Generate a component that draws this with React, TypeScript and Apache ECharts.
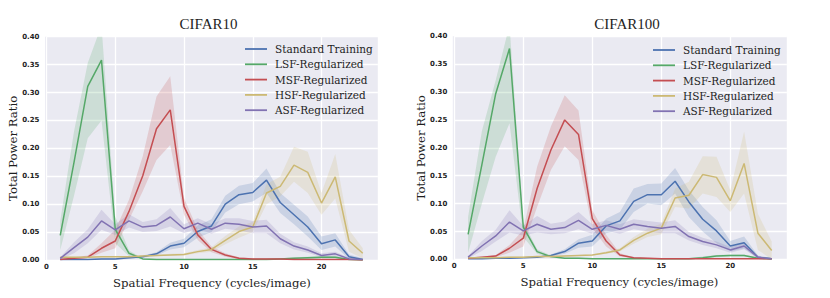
import React, { useEffect, useRef } from "react";
import * as echarts from "echarts";

const freq = [1, 2, 3, 4, 5, 6, 7, 8, 9, 10, 11, 12, 13, 14, 15, 16, 17, 18, 19, 20, 21, 22, 23];
const seriesNames = ["Standard Training", "LSF-Regularized", "MSF-Regularized", "HSF-Regularized", "ASF-Regularized"];
const colors = ["#4C72B0", "#55A868", "#C44E52", "#CCB974", "#8172B2"];
const panelTitles = ["CIFAR10", "CIFAR100"];
const xTicks = [0, 5, 10, 15, 20];
const yTicks = [0, 0.05, 0.1, 0.15, 0.2, 0.25, 0.3, 0.35, 0.4];

// ---- CIFAR10 ----
const c10StdMean = [0.001, 0.001, 0.001, 0.002, 0.002, 0.004, 0.006, 0.011, 0.025, 0.030, 0.051, 0.061, 0.100, 0.117, 0.121, 0.143, 0.103, 0.081, 0.059, 0.029, 0.036, 0.006, 0.001];
const c10StdLo = [0, 0, 0, 0.001, 0.001, 0.002, 0.004, 0.008, 0.019, 0.023, 0.040, 0.050, 0.085, 0.100, 0.105, 0.120, 0.084, 0.064, 0.042, 0.018, 0.024, 0.002, 0];
const c10StdHi = [0.002, 0.002, 0.002, 0.003, 0.003, 0.006, 0.008, 0.014, 0.031, 0.038, 0.062, 0.073, 0.115, 0.133, 0.138, 0.164, 0.120, 0.099, 0.078, 0.042, 0.048, 0.010, 0.003];

const c10LsfMean = [0.044, 0.175, 0.311, 0.358, 0.055, 0.012, 0.002, 0.001, 0.001, 0.001, 0.001, 0.001, 0.001, 0.001, 0.001, 0.001, 0.002, 0.003, 0.004, 0.005, 0.005, 0.001, 0.000];
const c10LsfLo = [0.018, 0.115, 0.218, 0.250, 0.030, 0.007, 0.001, 0, 0, 0, 0, 0, 0, 0, 0, 0, 0.001, 0.001, 0.002, 0.003, 0.003, 0, 0];
const c10LsfHi = [0.070, 0.230, 0.353, 0.420, 0.078, 0.017, 0.003, 0.002, 0.002, 0.002, 0.002, 0.002, 0.002, 0.002, 0.002, 0.002, 0.003, 0.005, 0.006, 0.007, 0.007, 0.002, 0.001];

const c10MsfMean = [0.001, 0.003, 0.005, 0.021, 0.034, 0.087, 0.151, 0.235, 0.269, 0.096, 0.045, 0.019, 0.009, 0.003, 0.002, 0.002, 0.002, 0.001, 0.001, 0.001, 0.001, 0.001, 0.000];
const c10MsfLo = [0, 0.001, 0.003, 0.013, 0.021, 0.072, 0.123, 0.179, 0.206, 0.081, 0.036, 0.014, 0.006, 0.002, 0.001, 0.001, 0.001, 0, 0, 0, 0, 0, 0];
const c10MsfHi = [0.002, 0.005, 0.008, 0.030, 0.054, 0.108, 0.186, 0.293, 0.329, 0.111, 0.054, 0.024, 0.012, 0.005, 0.003, 0.003, 0.003, 0.002, 0.002, 0.002, 0.002, 0.002, 0.001];

const c10HsfMean = [0.005, 0.005, 0.005, 0.006, 0.006, 0.006, 0.007, 0.008, 0.009, 0.010, 0.015, 0.019, 0.035, 0.051, 0.059, 0.120, 0.132, 0.170, 0.157, 0.102, 0.149, 0.034, 0.012];
const c10HsfLo = [0.004, 0.004, 0.004, 0.005, 0.005, 0.005, 0.006, 0.007, 0.007, 0.008, 0.012, 0.015, 0.028, 0.040, 0.050, 0.100, 0.114, 0.140, 0.120, 0.081, 0.110, 0.015, 0.003];
const c10HsfHi = [0.006, 0.006, 0.006, 0.007, 0.007, 0.007, 0.008, 0.009, 0.011, 0.012, 0.018, 0.023, 0.043, 0.060, 0.068, 0.136, 0.149, 0.203, 0.194, 0.120, 0.190, 0.054, 0.021];

const c10AsfMean = [0.003, 0.022, 0.041, 0.070, 0.054, 0.070, 0.059, 0.062, 0.077, 0.056, 0.066, 0.055, 0.066, 0.064, 0.059, 0.061, 0.038, 0.025, 0.018, 0.008, 0.011, 0.002, 0.001];
const c10AsfLo = [0.001, 0.012, 0.030, 0.054, 0.045, 0.058, 0.050, 0.052, 0.060, 0.048, 0.056, 0.047, 0.056, 0.053, 0.048, 0.048, 0.030, 0.019, 0.013, 0.005, 0.007, 0.001, 0];
const c10AsfHi = [0.005, 0.032, 0.055, 0.090, 0.064, 0.082, 0.068, 0.073, 0.093, 0.064, 0.075, 0.064, 0.075, 0.075, 0.070, 0.072, 0.047, 0.032, 0.024, 0.012, 0.015, 0.004, 0.002];

// ---- CIFAR100 ----
const c100StdMean = [0.001, 0.001, 0.002, 0.002, 0.003, 0.004, 0.007, 0.014, 0.029, 0.033, 0.060, 0.069, 0.104, 0.116, 0.116, 0.140, 0.103, 0.072, 0.051, 0.024, 0.030, 0.004, 0.001];
const c100StdLo = [0, 0, 0.001, 0.001, 0.002, 0.003, 0.005, 0.010, 0.021, 0.023, 0.047, 0.053, 0.085, 0.100, 0.097, 0.118, 0.076, 0.050, 0.029, 0.014, 0.020, 0.001, 0];
const c100StdHi = [0.002, 0.002, 0.003, 0.003, 0.004, 0.005, 0.009, 0.018, 0.036, 0.044, 0.073, 0.085, 0.127, 0.135, 0.136, 0.164, 0.124, 0.094, 0.070, 0.033, 0.041, 0.007, 0.002];

const c100LsfMean = [0.045, 0.170, 0.297, 0.378, 0.058, 0.014, 0.005, 0.002, 0.002, 0.001, 0.001, 0.001, 0.001, 0.001, 0.001, 0.001, 0.001, 0.003, 0.006, 0.007, 0.007, 0.002, 0.001];
const c100LsfLo = [0.012, 0.100, 0.184, 0.244, 0.040, 0.010, 0.003, 0.001, 0.001, 0, 0, 0, 0, 0, 0, 0, 0, 0.001, 0.004, 0.005, 0.005, 0.001, 0];
const c100LsfHi = [0.076, 0.230, 0.321, 0.420, 0.067, 0.018, 0.007, 0.003, 0.003, 0.002, 0.002, 0.002, 0.002, 0.002, 0.002, 0.002, 0.002, 0.005, 0.008, 0.009, 0.009, 0.003, 0.002];

const c100MsfMean = [0.002, 0.004, 0.006, 0.020, 0.038, 0.127, 0.196, 0.250, 0.224, 0.073, 0.033, 0.008, 0.003, 0.002, 0.001, 0.001, 0.001, 0.001, 0.001, 0.001, 0.001, 0.001, 0.001];
const c100MsfLo = [0.001, 0.003, 0.004, 0.012, 0.023, 0.094, 0.160, 0.203, 0.178, 0.056, 0.023, 0.005, 0.002, 0.001, 0, 0, 0, 0, 0, 0, 0, 0, 0];
const c100MsfHi = [0.003, 0.005, 0.008, 0.026, 0.053, 0.166, 0.238, 0.294, 0.267, 0.088, 0.044, 0.011, 0.004, 0.003, 0.002, 0.002, 0.002, 0.002, 0.002, 0.002, 0.002, 0.002, 0.002];

const c100HsfMean = [0.003, 0.003, 0.003, 0.004, 0.004, 0.005, 0.005, 0.006, 0.007, 0.008, 0.012, 0.017, 0.034, 0.047, 0.056, 0.110, 0.115, 0.152, 0.147, 0.105, 0.172, 0.047, 0.016];
const c100HsfLo = [0.002, 0.002, 0.002, 0.003, 0.003, 0.004, 0.004, 0.005, 0.006, 0.007, 0.010, 0.014, 0.028, 0.040, 0.045, 0.094, 0.091, 0.118, 0.112, 0.085, 0.118, 0.017, 0];
const c100HsfHi = [0.004, 0.004, 0.004, 0.005, 0.005, 0.006, 0.006, 0.007, 0.008, 0.009, 0.014, 0.020, 0.040, 0.055, 0.064, 0.127, 0.139, 0.185, 0.184, 0.124, 0.229, 0.082, 0.032];

const c100AsfMean = [0.004, 0.024, 0.042, 0.067, 0.051, 0.063, 0.054, 0.057, 0.070, 0.054, 0.061, 0.054, 0.063, 0.059, 0.056, 0.059, 0.041, 0.032, 0.026, 0.017, 0.024, 0.004, 0.001];
const c100AsfLo = [0.002, 0.015, 0.032, 0.048, 0.043, 0.048, 0.045, 0.047, 0.054, 0.046, 0.052, 0.046, 0.054, 0.050, 0.047, 0.047, 0.034, 0.026, 0.020, 0.012, 0.018, 0.002, 0];
const c100AsfHi = [0.006, 0.033, 0.053, 0.088, 0.060, 0.078, 0.064, 0.068, 0.085, 0.063, 0.070, 0.063, 0.072, 0.069, 0.066, 0.070, 0.049, 0.039, 0.032, 0.022, 0.030, 0.006, 0.002];

const panels = [
  {
    means: [c10StdMean, c10LsfMean, c10MsfMean, c10HsfMean, c10AsfMean],
    los: [c10StdLo, c10LsfLo, c10MsfLo, c10HsfLo, c10AsfLo],
    his: [c10StdHi, c10LsfHi, c10MsfHi, c10HsfHi, c10AsfHi],
  },
  {
    means: [c100StdMean, c100LsfMean, c100MsfMean, c100HsfMean, c100AsfMean],
    los: [c100StdLo, c100LsfLo, c100MsfLo, c100HsfLo, c100AsfLo],
    his: [c100StdHi, c100LsfHi, c100MsfHi, c100HsfHi, c100AsfHi],
  },
];

// layout
const layout = [
  { gridLeft: 46.5, unit: 13.75, top: 36.7, bottom: 260, bgLeft: 45, titleX: 208.5, yNameX: 13, xNameX: 212, xNameY: 283, legendLeft: 245, legendTop: 43 },
  { gridLeft: 454.3, unit: 13.8, top: 36.2, bottom: 259.4, bgLeft: 452.8, titleX: 627, yNameX: 421, xNameX: 619.5, xNameY: 282, legendLeft: 653, legendTop: 44 },
];
const X_MAX = 24.1;
const Y_MAX = 0.4;
const TEXT = "#1e1e1e";

function bandRenderer(color: string) {
  return (params: any, api: any) => {
    if (params.dataIndex !== 0) return null;
    const upper: number[][] = [];
    const lower: number[][] = [];
    for (let k = 0; k < freq.length; k++) {
      const x = api.value(0, k);
      const lo = api.value(1, k);
      const hi = api.value(2, k);
      upper.push(api.coord([x, hi]));
      lower.push(api.coord([x, lo]));
    }
    const pts = upper.concat(lower.reverse());
    const cs = params.coordSys;
    return {
      type: "polygon",
      shape: { points: pts },
      style: { fill: color, opacity: 0.2 },
      clipPath: {
        type: "rect",
        shape: { x: cs.x, y: cs.y, width: cs.width, height: cs.height },
      },
      silent: true,
    };
  };
}

export default function App() {
  const ref = useRef<HTMLDivElement>(null);
  useEffect(() => {
    if (!ref.current) return;
    const chart = echarts.init(ref.current, null, { renderer: "svg" });

    const grids: any[] = [];
    const xAxes: any[] = [];
    const yAxes: any[] = [];
    const legends: any[] = [];
    const series: any[] = [];
    const graphics: any[] = [];

    layout.forEach((L, p) => {
      const width = X_MAX * L.unit;
      const height = L.bottom - L.top;
      grids.push({ left: L.gridLeft, top: L.top, width, height, containLabel: false });
      graphics.push({
        type: "rect",
        z: -10,
        shape: { x: L.bgLeft, y: L.top, width: L.gridLeft + width - L.bgLeft, height },
        style: { fill: "#EAEAF2" },
        silent: true,
      });
      xAxes.push({
        type: "value",
        gridIndex: p,
        min: 0,
        max: X_MAX,
        interval: 5,
        axisLine: { show: false },
        axisTick: { show: false },
        splitLine: { show: true, lineStyle: { color: "#FFFFFF", width: 1.3 } },
        axisLabel: {
          margin: 3,
          showMaxLabel: false,
          formatter: (v: number) => (xTicks.indexOf(v) >= 0 ? String(v) : ""),
          fontFamily: "DejaVu Sans",
          fontWeight: "bold",
          fontSize: 7,
          color: TEXT,
        },
      });
      yAxes.push({
        type: "value",
        gridIndex: p,
        min: 0,
        max: Y_MAX,
        interval: 0.05,
        axisLine: { show: false },
        axisTick: { show: false },
        splitLine: { show: true, lineStyle: { color: "#FFFFFF", width: 1.3 } },
        axisLabel: {
          margin: 7,
          formatter: (v: number) => (yTicks.some((t) => Math.abs(t - v) < 1e-9) ? v.toFixed(2) : ""),
          fontFamily: "DejaVu Sans",
          fontWeight: "bold",
          fontSize: 7,
          color: TEXT,
        },
      });
      legends.push({
        orient: "vertical",
        left: L.legendLeft,
        top: L.legendTop,
        padding: 0,
        itemGap: 3.3,
        itemWidth: 22,
        itemHeight: 1.8,
        icon: "rect",
        data: seriesNames,
        selectedMode: false,
        textStyle: {
          fontFamily: "DejaVu Serif",
          fontSize: 10.5,
          lineHeight: 12,
          color: TEXT,
          padding: [0, 0, 0, 3],
        },
      });

      const P = panels[p];
      P.means.forEach((m, i) => {
        series.push({
          type: "custom",
          name: `${seriesNames[i]} band ${p}`,
          xAxisIndex: p,
          yAxisIndex: p,
          data: freq.map((x, k) => [x, P.los[i][k], P.his[i][k]]),
          encode: { x: 0, y: [1, 2] },
          renderItem: bandRenderer(colors[i]),
          silent: true,
          z: 1 + i * 0.01,
        });
        series.push({
          type: "line",
          name: seriesNames[i],
          xAxisIndex: p,
          yAxisIndex: p,
          data: freq.map((x, k) => [x, m[k]]),
          symbol: "none",
          showSymbol: false,
          color: colors[i],
          lineStyle: { width: 1.5, color: colors[i] },
          itemStyle: { color: colors[i] },
          z: 3,
        });
      });

      graphics.push({
        type: "text",
        x: L.titleX,
        y: 24,
        style: {
          text: panelTitles[p],
          font: "15px 'Liberation Serif'",
          fill: TEXT,
          textAlign: "center",
          textVerticalAlign: "middle",
        },
      });
      graphics.push({
        type: "text",
        x: L.xNameX,
        y: L.xNameY,
        style: {
          text: "Spatial Frequency (cycles/image)",
          font: "11.7px 'DejaVu Serif'",
          fill: TEXT,
          textAlign: "center",
          textVerticalAlign: "middle",
        },
      });
      graphics.push({
        type: "text",
        x: L.yNameX,
        y: (L.top + L.bottom) / 2,
        rotation: Math.PI / 2,
        style: {
          text: "Total Power Ratio",
          font: "11.7px 'DejaVu Serif'",
          fill: TEXT,
          textAlign: "center",
          textVerticalAlign: "middle",
        },
      });
    });

    chart.setOption({
      animation: false,
      backgroundColor: "#FFFFFF",
      grid: grids,
      xAxis: xAxes,
      yAxis: yAxes,
      legend: legends,
      series,
      graphic: { elements: graphics },
    });
    return () => chart.dispose();
  }, []);
  return <div ref={ref} style={{ position: "absolute", left: 0, top: 0, width: 830, height: 298 }} />;
}
